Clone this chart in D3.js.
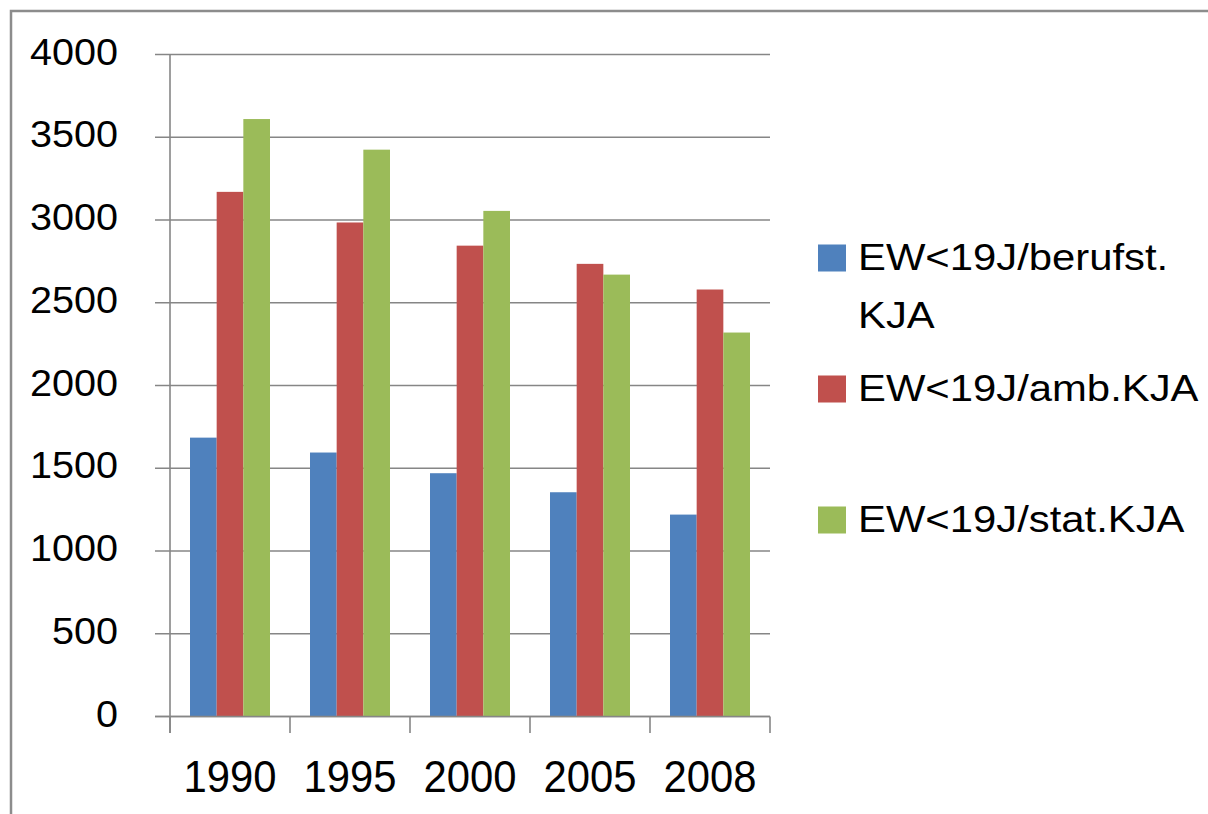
<!DOCTYPE html>
<html lang="de">
<head>
    <meta charset="UTF-8">
    <title>EW unter 19 Jahren je KJA</title>
    <script src="https://d3js.org/d3.v7.min.js"></script>
    <style>
        body {
            margin: 0;
            background: #fff;
            font-family: "Liberation Sans", Arial, sans-serif;
        }
        .grid line {
            stroke: #868686;
            stroke-width: 1.6px;
        }
        .frame {
            stroke: #8c8c8c;
            stroke-width: 2.5px;
            fill: none;
        }
    </style>
</head>
<body>

<svg width="1208" height="814"></svg>

<script>
    // Data
    const years = ["1990", "1995", "2000", "2005", "2008"];
    const seriesNames = ["EW<19J/berufst. KJA", "EW<19J/amb.KJA", "EW<19J/stat.KJA"];
    const berufst = [1685, 1595, 1470, 1355, 1220];
    const amb = [3170, 2985, 2845, 2735, 2580];
    const stat = [3610, 3425, 3055, 2670, 2320];
    const yTicks = [0, 500, 1000, 1500, 2000, 2500, 3000, 3500, 4000];
    const colors = ["#4f81bd", "#c0504d", "#9bbb59"];

    const seriesValues = [berufst, amb, stat];

    const svg = d3.select("svg");

    // stretch text horizontally to a given factor of its natural width
    function stretch(sel, k) {
        sel.each(function() {
            const w = this.getComputedTextLength();
            d3.select(this).attr("textLength", w * k).attr("lengthAdjust", "spacingAndGlyphs");
        });
    }

    // outer frame (only left and top edges visible)
    svg.append("path")
        .attr("class", "frame")
        .attr("d", "M11,814 L11,11 L1208,11");

    const plot = { left: 170, right: 770, top: 54.5, bottom: 716.5 };

    const x0 = d3.scaleBand()
        .domain(years)
        .range([plot.left, plot.right]);

    const x1 = d3.scaleBand()
        .domain(d3.range(seriesValues.length))
        .range([20, 100]);

    const y = d3.scaleLinear()
        .domain([0, 4000])
        .range([plot.bottom, plot.top]);

    // gridlines incl. the little tick stubs left of the axis
    svg.append("g")
        .attr("class", "grid")
        .selectAll("line")
        .data(yTicks)
        .enter().append("line")
            .attr("x1", 155)
            .attr("x2", plot.right)
            .attr("y1", d => y(d))
            .attr("y2", d => y(d));

    // bars
    const groups = svg.append("g")
        .selectAll("g")
        .data(years)
        .enter().append("g")
            .attr("transform", d => `translate(${x0(d)},0)`);

    groups.selectAll("rect")
        .data((d, i) => seriesValues.map((vals, s) => ({ s: s, v: vals[i] })))
        .enter().append("rect")
            .attr("x", d => x1(d.s))
            .attr("width", x1.bandwidth())
            .attr("y", d => y(d.v))
            .attr("height", d => y(0) - y(d.v))
            .attr("fill", d => colors[d.s]);

    // axes lines
    const axisG = svg.append("g").attr("class", "grid");
    axisG.append("line")
        .attr("x1", plot.left).attr("x2", plot.left)
        .attr("y1", plot.top).attr("y2", 733);
    axisG.append("line")
        .attr("x1", 155).attr("x2", plot.right)
        .attr("y1", y(0)).attr("y2", y(0));
    axisG.selectAll(".xtick")
        .data(years.concat(["end"]))
        .enter().append("line")
            .attr("x1", (d, i) => plot.left + i * x0.step())
            .attr("x2", (d, i) => plot.left + i * x0.step())
            .attr("y1", y(0))
            .attr("y2", 733);

    // y tick labels
    svg.append("g")
        .selectAll("text")
        .data(yTicks)
        .enter().append("text")
            .attr("x", 118)
            .attr("y", d => y(d) + 10)
            .attr("text-anchor", "end")
            .style("font-size", "36px")
            .attr("fill", "#000")
            .text(d => d)
            .call(stretch, 1.1);

    // x labels
    svg.append("g")
        .selectAll("text")
        .data(years)
        .enter().append("text")
            .attr("x", d => x0(d) + x0.bandwidth() / 2)
            .attr("y", 792)
            .attr("text-anchor", "middle")
            .style("font-size", "44px")
            .attr("fill", "#000")
            .text(d => d)
            .call(stretch, 0.95);

    // legend
    const legendRows = [
        { lines: ["EW<19J/berufst.", "KJA"], cy: 258 },
        { lines: ["EW<19J/amb.KJA"], cy: 389 },
        { lines: ["EW<19J/stat.KJA"], cy: 520 }
    ];

    const legend = svg.append("g")
        .selectAll("g")
        .data(legendRows)
        .enter().append("g");

    legend.append("rect")
        .attr("x", 818)
        .attr("y", d => d.cy - 13.5)
        .attr("width", 28)
        .attr("height", 27)
        .attr("fill", (d, i) => colors[i]);

    legend.each(function(d) {
        const g = d3.select(this);
        d.lines.forEach((line, j) => {
            g.append("text")
                .attr("x", 858)
                .attr("y", d.cy + 12 + j * 58)
                .style("font-size", "37px")
                .attr("fill", "#000")
                .text(line)
                .call(stretch, 1.13);
        });
    });
</script>

</body>
</html>
